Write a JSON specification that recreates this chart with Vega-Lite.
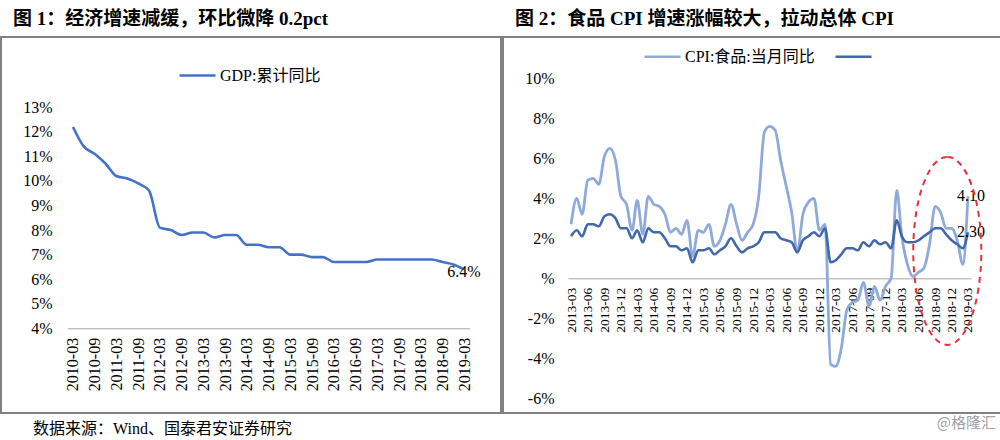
{
  "$schema": "https://vega.github.io/schema/vega-lite/v6.json",
  "padding": {"left": 0, "right": 0, "top": 9, "bottom": 0},
  "background": "white",
  "config": {
    "view": {"stroke": "#808080", "strokeWidth": 2},
    "font": "Liberation Serif, Noto Sans CJK SC",
    "axis": {"grid": false, "ticks": false, "title": null, "labelFont": "Liberation Serif", "labelColor": "#000000", "labelFontSize": 16, "labelOverlap": false},
    "legend": {"symbolType": "stroke", "symbolSize": 1300, "symbolStrokeWidth": 2.5, "labelFontSize": 16, "labelFont": "Liberation Serif, Noto Sans CJK SC", "labelColor": "#000000", "labelOffset": 3, "columnPadding": 15, "direction": "horizontal", "title": null}
  },
  "title": {"text": "数据来源：Wind、国泰君安证券研究", "orient": "bottom", "anchor": "start", "dx": 33, "dy": -10, "offset": 0, "fontSize": 16, "fontWeight": "normal", "font": "Liberation Serif, Noto Sans CJK SC", "color": "#000000"},
  "vconcat": [
    {
      "title": {"text": "@格隆汇", "orient": "bottom", "anchor": "end", "dx": -8, "offset": 2, "fontSize": 15, "fontWeight": "normal", "font": "Noto Sans CJK SC", "color": "#a0a0a0"},
      "spacing": 0,
      "resolve": {"scale": {"color": "independent"}, "legend": {"color": "independent"}},
      "hconcat": [
        {
          "width": 500,
          "height": 376,
          "title": {"text": "图 1：经济增速减缓，环比微降 0.2pct", "anchor": "start", "dx": 12, "offset": 8, "fontSize": 19, "fontWeight": "bold", "font": "Liberation Serif, Noto Sans CJK SC", "color": "#000000"},
          "data": {"values": [
            {"date": "2010-03-01", "gdp": 12.2},
            {"date": "2010-06-01", "gdp": 11.4},
            {"date": "2010-09-01", "gdp": 11.1},
            {"date": "2010-12-01", "gdp": 10.7},
            {"date": "2011-03-01", "gdp": 10.2},
            {"date": "2011-06-01", "gdp": 10.1},
            {"date": "2011-09-01", "gdp": 9.9},
            {"date": "2011-12-01", "gdp": 9.6},
            {"date": "2012-03-01", "gdp": 8.1},
            {"date": "2012-06-01", "gdp": 8.0},
            {"date": "2012-09-01", "gdp": 7.8},
            {"date": "2012-12-01", "gdp": 7.9},
            {"date": "2013-03-01", "gdp": 7.9},
            {"date": "2013-06-01", "gdp": 7.7},
            {"date": "2013-09-01", "gdp": 7.8},
            {"date": "2013-12-01", "gdp": 7.8},
            {"date": "2014-03-01", "gdp": 7.4},
            {"date": "2014-06-01", "gdp": 7.4},
            {"date": "2014-09-01", "gdp": 7.3},
            {"date": "2014-12-01", "gdp": 7.3},
            {"date": "2015-03-01", "gdp": 7.0},
            {"date": "2015-06-01", "gdp": 7.0},
            {"date": "2015-09-01", "gdp": 6.9},
            {"date": "2015-12-01", "gdp": 6.9},
            {"date": "2016-03-01", "gdp": 6.7},
            {"date": "2016-06-01", "gdp": 6.7},
            {"date": "2016-09-01", "gdp": 6.7},
            {"date": "2016-12-01", "gdp": 6.7},
            {"date": "2017-03-01", "gdp": 6.8},
            {"date": "2017-06-01", "gdp": 6.8},
            {"date": "2017-09-01", "gdp": 6.8},
            {"date": "2017-12-01", "gdp": 6.8},
            {"date": "2018-03-01", "gdp": 6.8},
            {"date": "2018-06-01", "gdp": 6.8},
            {"date": "2018-09-01", "gdp": 6.7},
            {"date": "2018-12-01", "gdp": 6.6},
            {"date": "2019-03-01", "gdp": 6.4, "label": "6.4%"}
          ]},
          "encoding": {
            "x": {"field": "date", "type": "temporal",
              "scale": {"type": "utc", "domain": [{"year": 2010, "month": 1, "date": 14, "utc": true}, {"year": 2019, "month": 4, "date": 16, "utc": true}], "range": [66.5, 468.5]},
              "axis": {"orient": "bottom", "offset": -84.7, "labelExpr": "utcFormat(datum.value, '%Y-%m')", "labelAngle": -90, "labelPadding": 9, "labelFlush": false, "labelOverlap": false, "labelFontSize": 16, "domainColor": "#a6a6a6", "domainWidth": 1,
                "values": [
                  {"year": 2010, "month": 3, "date": 1, "utc": true}, {"year": 2010, "month": 9, "date": 1, "utc": true},
                  {"year": 2011, "month": 3, "date": 1, "utc": true}, {"year": 2011, "month": 9, "date": 1, "utc": true},
                  {"year": 2012, "month": 3, "date": 1, "utc": true}, {"year": 2012, "month": 9, "date": 1, "utc": true},
                  {"year": 2013, "month": 3, "date": 1, "utc": true}, {"year": 2013, "month": 9, "date": 1, "utc": true},
                  {"year": 2014, "month": 3, "date": 1, "utc": true}, {"year": 2014, "month": 9, "date": 1, "utc": true},
                  {"year": 2015, "month": 3, "date": 1, "utc": true}, {"year": 2015, "month": 9, "date": 1, "utc": true},
                  {"year": 2016, "month": 3, "date": 1, "utc": true}, {"year": 2016, "month": 9, "date": 1, "utc": true},
                  {"year": 2017, "month": 3, "date": 1, "utc": true}, {"year": 2017, "month": 9, "date": 1, "utc": true},
                  {"year": 2018, "month": 3, "date": 1, "utc": true}, {"year": 2018, "month": 9, "date": 1, "utc": true},
                  {"year": 2019, "month": 3, "date": 1, "utc": true}
                ]}},
            "y": {"field": "gdp", "type": "quantitative",
              "scale": {"domain": [4, 13], "range": [291.3, 70.3], "zero": false, "nice": false},
              "axis": {"orient": "left", "offset": -51, "domain": false, "labelPadding": 0, "values": [4, 5, 6, 7, 8, 9, 10, 11, 12, 13], "labelExpr": "datum.value + '%'"}}
          },
          "layer": [
            {
              "mark": {"type": "line", "interpolate": "monotone", "strokeWidth": 2.6},
              "encoding": {
                "color": {"datum": "GDP:累计同比", "type": "nominal", "scale": {"domain": ["GDP:累计同比"], "range": ["#4472C4"]},
                  "legend": {"orient": "none", "legendX": 177, "legendY": 19}}
              }
            },
            {
              "transform": [{"filter": "datum.label"}],
              "mark": {"type": "text", "align": "center", "baseline": "middle", "dy": 3, "fontSize": 16, "font": "Liberation Serif", "color": "#000000"},
              "encoding": {"text": {"field": "label", "type": "nominal"}}
            }
          ]
        },
        {
          "width": 500,
          "height": 376,
          "title": {"text": "图 2：食品 CPI 增速涨幅较大，拉动总体 CPI", "anchor": "start", "dx": 12, "offset": 8, "fontSize": 19, "fontWeight": "bold", "font": "Liberation Serif, Noto Sans CJK SC", "color": "#000000"},
          "data": {"values": [
            {"d": "2013-03-01", "food": 2.7, "cpi": 2.1},
            {"d": "2013-04-01", "food": 4.0, "cpi": 2.4},
            {"d": "2013-05-01", "food": 3.2, "cpi": 2.1},
            {"d": "2013-06-01", "food": 4.9, "cpi": 2.7},
            {"d": "2013-07-01", "food": 5.0, "cpi": 2.7},
            {"d": "2013-08-01", "food": 4.7, "cpi": 2.6},
            {"d": "2013-09-01", "food": 6.1, "cpi": 3.1},
            {"d": "2013-10-01", "food": 6.5, "cpi": 3.2},
            {"d": "2013-11-01", "food": 5.9, "cpi": 3.0},
            {"d": "2013-12-01", "food": 4.1, "cpi": 2.5},
            {"d": "2014-01-01", "food": 3.7, "cpi": 2.5},
            {"d": "2014-02-01", "food": 2.4, "cpi": 2.0},
            {"d": "2014-03-01", "food": 3.9, "cpi": 2.4},
            {"d": "2014-04-01", "food": 2.2, "cpi": 1.8},
            {"d": "2014-05-01", "food": 4.1, "cpi": 2.5},
            {"d": "2014-06-01", "food": 3.7, "cpi": 2.3},
            {"d": "2014-07-01", "food": 3.6, "cpi": 2.3},
            {"d": "2014-08-01", "food": 3.2, "cpi": 2.0},
            {"d": "2014-09-01", "food": 2.3, "cpi": 1.6},
            {"d": "2014-10-01", "food": 2.5, "cpi": 1.6},
            {"d": "2014-11-01", "food": 2.2, "cpi": 1.4},
            {"d": "2014-12-01", "food": 2.9, "cpi": 1.5},
            {"d": "2015-01-01", "food": 1.1, "cpi": 0.8},
            {"d": "2015-02-01", "food": 2.4, "cpi": 1.4},
            {"d": "2015-03-01", "food": 2.3, "cpi": 1.4},
            {"d": "2015-04-01", "food": 2.7, "cpi": 1.5},
            {"d": "2015-05-01", "food": 1.6, "cpi": 1.2},
            {"d": "2015-06-01", "food": 1.9, "cpi": 1.4},
            {"d": "2015-07-01", "food": 2.7, "cpi": 1.6},
            {"d": "2015-08-01", "food": 3.7, "cpi": 2.0},
            {"d": "2015-09-01", "food": 2.7, "cpi": 1.6},
            {"d": "2015-10-01", "food": 1.9, "cpi": 1.3},
            {"d": "2015-11-01", "food": 2.3, "cpi": 1.5},
            {"d": "2015-12-01", "food": 2.7, "cpi": 1.6},
            {"d": "2016-01-01", "food": 4.1, "cpi": 1.8},
            {"d": "2016-02-01", "food": 7.3, "cpi": 2.3},
            {"d": "2016-03-01", "food": 7.6, "cpi": 2.3},
            {"d": "2016-04-01", "food": 7.4, "cpi": 2.3},
            {"d": "2016-05-01", "food": 5.9, "cpi": 2.0},
            {"d": "2016-06-01", "food": 4.6, "cpi": 1.9},
            {"d": "2016-07-01", "food": 3.3, "cpi": 1.8},
            {"d": "2016-08-01", "food": 1.3, "cpi": 1.3},
            {"d": "2016-09-01", "food": 3.2, "cpi": 1.9},
            {"d": "2016-10-01", "food": 3.8, "cpi": 2.1},
            {"d": "2016-11-01", "food": 4.0, "cpi": 2.3},
            {"d": "2016-12-01", "food": 2.4, "cpi": 2.1},
            {"d": "2017-01-01", "food": 2.7, "cpi": 2.5},
            {"d": "2017-02-01", "food": -4.3, "cpi": 0.8},
            {"d": "2017-03-01", "food": -4.4, "cpi": 0.9},
            {"d": "2017-04-01", "food": -3.5, "cpi": 1.2},
            {"d": "2017-05-01", "food": -1.6, "cpi": 1.5},
            {"d": "2017-06-01", "food": -1.2, "cpi": 1.5},
            {"d": "2017-07-01", "food": -1.1, "cpi": 1.4},
            {"d": "2017-08-01", "food": -0.2, "cpi": 1.8},
            {"d": "2017-09-01", "food": -1.4, "cpi": 1.6},
            {"d": "2017-10-01", "food": -0.4, "cpi": 1.9},
            {"d": "2017-11-01", "food": -1.1, "cpi": 1.7},
            {"d": "2017-12-01", "food": -0.4, "cpi": 1.8},
            {"d": "2018-01-01", "food": 0.0, "cpi": 1.5},
            {"d": "2018-02-01", "food": 4.4, "cpi": 2.9},
            {"d": "2018-03-01", "food": 2.1, "cpi": 2.1},
            {"d": "2018-04-01", "food": 0.7, "cpi": 1.8},
            {"d": "2018-05-01", "food": 0.1, "cpi": 1.8},
            {"d": "2018-06-01", "food": 0.3, "cpi": 1.9},
            {"d": "2018-07-01", "food": 0.5, "cpi": 2.1},
            {"d": "2018-08-01", "food": 1.7, "cpi": 2.3},
            {"d": "2018-09-01", "food": 3.6, "cpi": 2.5},
            {"d": "2018-10-01", "food": 3.3, "cpi": 2.5},
            {"d": "2018-11-01", "food": 2.5, "cpi": 2.2},
            {"d": "2018-12-01", "food": 2.5, "cpi": 1.9},
            {"d": "2019-01-01", "food": 1.9, "cpi": 1.7},
            {"d": "2019-02-01", "food": 0.7, "cpi": 1.5},
            {"d": "2019-03-01", "food": 4.1, "cpi": 2.3}
          ]},
          "encoding": {
            "x": {"field": "d", "type": "temporal",
              "scale": {"type": "utc", "domain": [{"year": 2013, "month": 2, "date": 12, "utc": true}, {"year": 2019, "month": 3, "date": 18, "utc": true}], "range": [65, 468]},
              "axis": {"orient": "bottom", "offset": -134.7, "labelExpr": "utcFormat(datum.value, '%Y-%m')", "labelAngle": -90, "labelPadding": 9, "labelFlush": false, "labelOverlap": false, "labelFontSize": 13.5, "domainColor": "#a6a6a6", "domainWidth": 1,
                "values": [
                  {"year": 2013, "month": 3, "date": 1, "utc": true}, {"year": 2013, "month": 6, "date": 1, "utc": true}, {"year": 2013, "month": 9, "date": 1, "utc": true}, {"year": 2013, "month": 12, "date": 1, "utc": true},
                  {"year": 2014, "month": 3, "date": 1, "utc": true}, {"year": 2014, "month": 6, "date": 1, "utc": true}, {"year": 2014, "month": 9, "date": 1, "utc": true}, {"year": 2014, "month": 12, "date": 1, "utc": true},
                  {"year": 2015, "month": 3, "date": 1, "utc": true}, {"year": 2015, "month": 6, "date": 1, "utc": true}, {"year": 2015, "month": 9, "date": 1, "utc": true}, {"year": 2015, "month": 12, "date": 1, "utc": true},
                  {"year": 2016, "month": 3, "date": 1, "utc": true}, {"year": 2016, "month": 6, "date": 1, "utc": true}, {"year": 2016, "month": 9, "date": 1, "utc": true}, {"year": 2016, "month": 12, "date": 1, "utc": true},
                  {"year": 2017, "month": 3, "date": 1, "utc": true}, {"year": 2017, "month": 6, "date": 1, "utc": true}, {"year": 2017, "month": 9, "date": 1, "utc": true}, {"year": 2017, "month": 12, "date": 1, "utc": true},
                  {"year": 2018, "month": 3, "date": 1, "utc": true}, {"year": 2018, "month": 6, "date": 1, "utc": true}, {"year": 2018, "month": 9, "date": 1, "utc": true}, {"year": 2018, "month": 12, "date": 1, "utc": true},
                  {"year": 2019, "month": 3, "date": 1, "utc": true}
                ]}}
          },
          "layer": [
            {
              "mark": {"type": "line", "interpolate": "monotone", "strokeWidth": 2.8},
              "encoding": {
                "y": {"field": "food", "type": "quantitative",
                  "scale": {"domain": [-6, 10], "range": [361.3, 41.3], "zero": false, "nice": false},
                  "axis": {"orient": "left", "offset": -51, "domain": false, "labelPadding": 0, "values": [-6, -4, -2, 0, 2, 4, 6, 8, 10], "labelExpr": "datum.value == 0 ? '%' : datum.value + '%'"}},
                "color": {"datum": "CPI:食品:当月同比", "type": "nominal",
                  "scale": {"domain": ["CPI:食品:当月同比", "CPI:当月同比"], "range": ["#8FAAD9", "#4169AA"]},
                  "legend": {"orient": "none", "legendX": 140, "legendY": 0, "labelExpr": "datum.label == 'CPI:当月同比' ? '' : datum.label"}}
              }
            },
            {
              "mark": {"type": "line", "interpolate": "monotone", "strokeWidth": 2.6},
              "encoding": {
                "y": {"field": "cpi", "type": "quantitative"},
                "color": {"datum": "CPI:当月同比", "type": "nominal"}
              }
            },
            {
              "transform": [{"filter": "utcyear(datum.d) == 2019 && utcmonth(datum.d) == 2"}],
              "mark": {"type": "text", "align": "center", "baseline": "middle", "dx": 3, "fontSize": 16, "font": "Liberation Serif", "color": "#000000"},
              "encoding": {
                "y": {"field": "food", "type": "quantitative"},
                "text": {"field": "food", "type": "quantitative", "format": ".2f"}
              }
            },
            {
              "transform": [{"filter": "utcyear(datum.d) == 2019 && utcmonth(datum.d) == 2"}],
              "mark": {"type": "text", "align": "center", "baseline": "middle", "dx": 3, "fontSize": 16, "font": "Liberation Serif", "color": "#000000"},
              "encoding": {
                "y": {"field": "cpi", "type": "quantitative"},
                "text": {"field": "cpi", "type": "quantitative", "format": ".2f"}
              }
            },
            {
              "data": {"values": [{"d": "2018-11-07", "v": 1.37}]},
              "mark": {"type": "point", "shape": "M0,-1A0.362,1 0 1,1 0,1A0.362,1 0 1,1 0,-1Z", "size": 35344, "filled": false, "fill": "transparent", "stroke": "#E8303A", "strokeWidth": 2, "strokeDash": [6, 5], "opacity": 1},
              "encoding": {
                "y": {"field": "v", "type": "quantitative"}
              }
            }
          ]
        }
      ]
    }
  ]
}
